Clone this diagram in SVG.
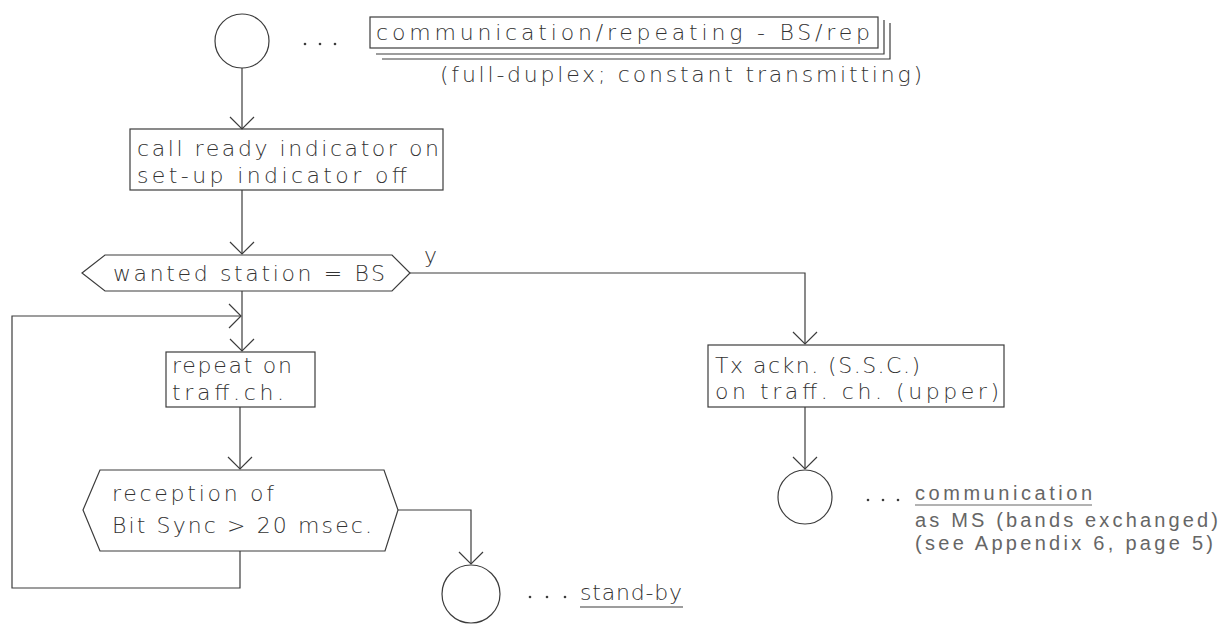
<svg xmlns="http://www.w3.org/2000/svg" width="1220" height="627" viewBox="0 0 1220 627">
  <style>
    .ln { fill: none; stroke: #3c3c3c; stroke-width: 1.2; }
    .dot { fill: #3c3c3c; }
    .plot { font-family: "DejaVu Sans", "Liberation Sans", sans-serif; font-size: 22px; font-weight: 200; fill: #333; }
    .note { font-family: "Liberation Sans", Arial, sans-serif; font-size: 20px; font-weight: normal; fill: #666; }
  </style>
  <defs>
    <marker id="vee" viewBox="-14 -14 16 28" markerWidth="16" markerHeight="28" refX="0" refY="0" orient="auto" markerUnits="userSpaceOnUse">
      <path d="M-12,-12 L0,0 L-12,12" fill="none" stroke="#3c3c3c" stroke-width="1.2"/>
    </marker>
  </defs>

  <rect width="1220" height="627" fill="#ffffff"/>

  <!-- connectors -->
  <g id="connectors">
    <path class="ln" d="M242,68 V129" marker-end="url(#vee)"/>
    <path class="ln" d="M242,190 V254" marker-end="url(#vee)"/>
    <path class="ln" d="M410,273 H805 V344" marker-end="url(#vee)"/>
    <path class="ln" d="M242,291 V351" marker-end="url(#vee)"/>
    <path class="ln" d="M240,551 V588 H12 V316 H241" marker-end="url(#vee)"/>
    <path class="ln" d="M240,407 V469" marker-end="url(#vee)"/>
    <path class="ln" d="M398,510 H471 V564" marker-end="url(#vee)"/>
    <path class="ln" d="M805,407 V469" marker-end="url(#vee)"/>
  </g>

  <!-- start connector: communication/repeating -->
  <g id="start">
    <circle class="ln" cx="242" cy="41" r="27"/>
    <circle class="dot" cx="305" cy="44" r="1.3"/>
    <circle class="dot" cx="320" cy="44" r="1.3"/>
    <circle class="dot" cx="335" cy="44" r="1.3"/>
    <rect class="ln" x="370" y="17" width="508" height="31"/>
    <path class="ln" d="M376,54 H884 V20"/>
    <path class="ln" d="M382,59 H890 V23"/>
    <text class="plot" x="376" y="40" textLength="494" lengthAdjust="spacing">communication/repeating - BS/rep</text>
    <text class="plot" x="440" y="82" textLength="482" lengthAdjust="spacing">(full-duplex; constant transmitting)</text>
  </g>

  <g id="indicators">
    <rect class="ln" x="130" y="129" width="313" height="61"/>
    <text class="plot" x="137" y="156" textLength="302" lengthAdjust="spacing">call ready indicator on</text>
    <text class="plot" x="137" y="183" textLength="270" lengthAdjust="spacing">set-up indicator off</text>
  </g>

  <g id="wanted-station">
    <path class="ln" d="M82,273 L105,255 H392 L410,273 L392,291 H105 Z"/>
    <text class="plot" x="113" y="281" textLength="272" lengthAdjust="spacing">wanted station = BS</text>
    <text class="plot" x="424" y="263">y</text>
  </g>

  <g id="repeat">
    <rect class="ln" x="166" y="352" width="149" height="55"/>
    <text class="plot" x="172" y="373" textLength="120" lengthAdjust="spacing">repeat on</text>
    <text class="plot" x="172" y="400" textLength="112" lengthAdjust="spacing">traff.ch.</text>
  </g>

  <g id="bit-sync">
    <path class="ln" d="M83,510 L100,470 H384 L398,510 L385,551 H100 Z"/>
    <text class="plot" x="112" y="501" textLength="162" lengthAdjust="spacing">reception of</text>
    <text class="plot" x="112" y="533" textLength="260" lengthAdjust="spacing">Bit Sync &gt; 20 msec.</text>
  </g>

  <g id="standby">
    <circle class="ln" cx="471" cy="594" r="29"/>
    <circle class="dot" cx="530" cy="597" r="1.3"/>
    <circle class="dot" cx="547" cy="597" r="1.3"/>
    <circle class="dot" cx="565" cy="597" r="1.3"/>
    <text class="plot" x="580" y="600" textLength="102" lengthAdjust="spacing">stand-by</text>
    <path class="ln" d="M580,607 H683"/>
  </g>

  <g id="tx-ackn">
    <rect class="ln" x="708" y="345" width="296" height="62"/>
    <text class="plot" x="715" y="373" textLength="205" lengthAdjust="spacing">Tx ackn. (S.S.C.)</text>
    <text class="plot" x="715" y="399" textLength="284" lengthAdjust="spacing">on traff. ch. (upper)</text>
  </g>

  <g id="communication-ms">
    <circle class="ln" cx="805" cy="497" r="27"/>
    <circle class="dot" cx="868" cy="500" r="1.3"/>
    <circle class="dot" cx="883" cy="500" r="1.3"/>
    <circle class="dot" cx="898" cy="500" r="1.3"/>
    <text class="note" x="915" y="500" textLength="177" lengthAdjust="spacing">communication</text>
    <path d="M915,505 H1092" fill="none" stroke="#666" stroke-width="1"/>
    <text class="note" x="915" y="527" textLength="303" lengthAdjust="spacing">as MS (bands exchanged)</text>
    <text class="note" x="915" y="550" textLength="298" lengthAdjust="spacing">(see Appendix 6, page 5)</text>
  </g>
</svg>
